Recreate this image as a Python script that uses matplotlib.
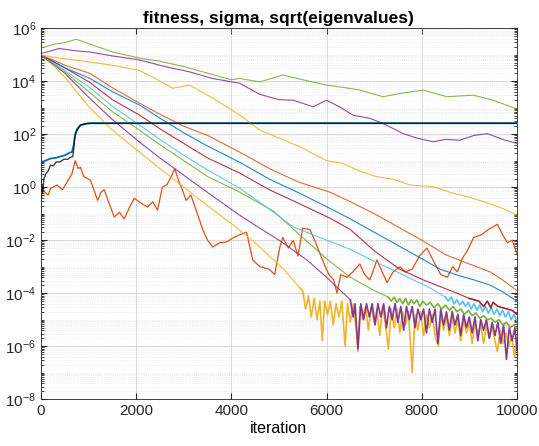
import numpy as np
import matplotlib
matplotlib.use("Agg")
import matplotlib.pyplot as plt
from matplotlib.ticker import (LogLocator, FixedLocator, FuncFormatter,
                               MultipleLocator, NullFormatter)

plt.rcParams['font.family'] = ['Liberation Sans', 'DejaVu Sans']
plt.rcParams['mathtext.fontset'] = 'custom'
plt.rcParams['mathtext.rm'] = 'Liberation Sans'
plt.rcParams['mathtext.it'] = 'Liberation Sans'

# colours (MATLAB default order)
C_BLUE = '#0072BD'
C_ORANGE = '#D95319'
C_YELLOW = '#EDB120'
C_PURPLE = '#7E2F8E'
C_GREEN = '#77AC30'
C_CYAN = '#4DBEEE'
C_RED = '#A2142F'

# ---- data, values, stored as log10 ----
black_it = [0, 10, 20, 40, 60, 100, 150, 200, 260, 320, 400, 480, 560, 620,
            670, 690, 710, 740, 780, 830, 900, 970, 1050, 10000]
black_lg = [0.26, -0.4, 0.1, -0.2, 0.3, 0.5, 0.6, 0.83, 0.8, 0.95, 0.95, 1.05,
            1.05, 1.13, 1.15, 1.5, 1.9, 2.07, 2.2, 2.34, 2.38, 2.4, 2.41, 2.41]

blue_it = [0, 100, 200, 300, 400, 500, 600, 650, 690, 720, 760, 830, 970, 1050, 10000]
blue_lg = [0.94, 1.0, 1.08, 1.1, 1.15, 1.2, 1.3, 1.32, 1.6, 2.0, 2.2, 2.34, 2.4, 2.41, 2.41]

fit_it = [0, 60, 150, 200, 340, 450, 550, 650, 720, 780, 830, 900, 1040, 1190,
          1260, 1330, 1450, 1540, 1650, 1750, 1850, 1960, 2100, 2240, 2350,
          2450, 2550, 2650, 2750, 2810, 2900, 2970, 3050, 3150, 3260, 3400,
          3500, 3610, 3750, 3900, 4050, 4175, 4320, 4450, 4600, 4800, 4910,
          5020, 5080, 5200, 5300, 5400, 5500, 5650, 5750, 5860, 5950, 6050,
          6150, 6220, 6300, 6430, 6550, 6700, 6800, 6910, 7060, 7170, 7270,
          7400, 7540, 7650, 7800, 7950, 8110, 8250, 8400, 8540, 8650, 8750,
          8850, 8960, 9090, 9250, 9400, 9500, 9590, 9700, 9800, 9900, 10000]
fit_lg = [0.0, -0.15, -0.3, -0.05, 0.08, -0.1, 0.19, 0.5, 1.0, 0.7, 0.75, 0.4,
          0.26, -0.5, -0.2, -0.1, -0.7, -1.13, -0.95, -1.2, -0.8, -0.42, -0.6,
          -0.75, -0.55, -0.87, 0.0, 0.1, 0.45, 0.7, 0.2, -0.1, -0.5, -0.3,
          -0.87, -1.6, -2.0, -2.26, -2.1, -2.07, -1.9, -1.8, -1.7, -2.75,
          -3.0, -3.1, -3.3, -2.26, -1.9, -2.3, -2.0, -2.6, -1.55, -1.6, -2.0,
          -2.5, -2.9, -3.3, -3.5, -4.0, -3.3, -3.4, -3.2, -2.9, -3.3, -3.5,
          -2.75, -3.2, -3.6, -3.2, -3.0, -3.2, -3.1, -2.6, -2.3, -2.8, -3.3,
          -3.4, -3.0, -3.2, -2.7, -2.4, -1.9, -1.8, -1.6, -1.5, -1.4, -1.8,
          -2.1, -2.0, -2.5]

# sqrt(eigenvalues), smallest first
yel2_it = [0, 250, 500, 1020, 1500, 2070, 2500, 3000, 3500, 4040, 4500, 4800,
           5100, 5440, 5500, 5560, 5620, 5680, 5740, 5800, 5860, 5910, 5960,
           6020, 6080, 6140, 6200, 6260, 6320, 6390, 6440, 6500, 6560, 6620,
           6660, 6700, 6760, 6820, 6880, 6940, 7000, 7060, 7120, 7180, 7240,
           7300, 7360, 7420, 7480, 7540, 7600, 7660, 7720, 7800, 7860, 7920,
           7980, 8040, 8100, 8160, 8220, 8290, 8350, 8400, 8460, 8520, 8580,
           8640, 8700, 8760, 8820, 8880, 8940, 9000, 9060, 9120, 9180, 9240,
           9300, 9360, 9420, 9480, 9540, 9590, 9650, 9710, 9770, 9830, 9890,
           9950, 10000]
yel2_lg = [4.98, 4.6, 4.15, 3.0, 2.15, 1.32, 0.7, 0.0, -0.7, -1.43, -2.1, -2.6,
           -3.1, -3.8, -3.9, -4.6, -4.1, -4.9, -4.2, -5.0, -4.3, -5.8, -4.3,
           -4.8, -4.3, -5.2, -4.4, -4.9, -4.3, -6.0, -4.4, -5.1, -4.4, -5.3,
           -6.2, -4.5, -5.0, -4.5, -5.4, -4.5, -5.1, -4.6, -5.6, -4.5, -5.2,
           -6.1, -4.6, -5.3, -4.6, -5.5, -4.7, -5.2, -4.7, -7.0, -4.8, -5.4,
           -4.7, -5.6, -4.8, -5.3, -4.8, -5.7, -6.0, -4.8, -5.4, -4.9, -5.6,
           -4.9, -5.5, -5.0, -5.8, -5.0, -5.5, -5.1, -5.9, -5.1, -5.6, -5.2,
           -5.9, -5.2, -5.7, -5.3, -5.8, -6.2, -5.4, -5.9, -5.5, -6.0, -5.6,
           -6.4, -5.7]

pur2_it = [0, 250, 500, 1020, 1500, 2070, 2500, 3000, 3500, 4175, 4600, 5000,
           5590, 6000, 6500, 6560, 6600, 6660, 6720, 6780, 6840, 6900, 6960,
           7020, 7080, 7140, 7200, 7260, 7320, 7380, 7440, 7500, 7560, 7620,
           7680, 7740, 7800, 7860, 7920, 7980, 8040, 8100, 8160, 8220, 8280,
           8340, 8400, 8460, 8520, 8580, 8640, 8700, 8760, 8820, 8880, 8940,
           9000, 9060, 9120, 9180, 9240, 9300, 9360, 9420, 9480, 9540, 9600,
           9660, 9720, 9780, 9840, 9900, 9960, 10000]
pur2_lg = [4.98, 4.65, 4.3, 3.36, 2.55, 1.7, 1.1, 0.45, -0.2, -1.06, -1.55,
           -2.0, -2.75, -3.4, -4.25, -4.9, -4.4, -6.1, -4.4, -5.0, -4.4, -4.9,
           -4.4, -5.2, -4.4, -4.9, -4.4, -5.3, -4.5, -5.0, -4.4, -5.1, -4.5,
           -5.4, -4.5, -5.0, -4.5, -5.3, -4.6, -5.0, -4.6, -5.5, -4.6, -5.1,
           -4.6, -5.9, -4.6, -5.2, -4.7, -5.4, -4.7, -5.2, -4.8, -5.6, -4.8,
           -5.3, -4.9, -5.5, -4.9, -5.8, -5.0, -5.4, -5.0, -5.7, -5.1, -5.6,
           -5.1, -5.9, -5.2, -6.5, -5.3, -5.8, -5.3, -6.1]

grn2_it = [0, 250, 500, 1020, 1500, 2070, 2500, 3000, 3500, 4175, 4880, 5500,
           6000, 6500, 7000, 7300, 7360, 7420, 7480, 7540, 7600, 7660, 7720,
           7780, 7840, 7900, 7960, 8020, 8100, 8180, 8260, 8340, 8420, 8500,
           8580, 8660, 8740, 8820, 8900, 8980, 9060, 9140, 9220, 9300, 9380,
           9460, 9540, 9620, 9700, 9780, 9860, 9940, 10000]
grn2_lg = [4.98, 4.7, 4.35, 3.58, 2.85, 2.15, 1.6, 1.0, 0.4, -0.19, -0.9, -1.9,
           -2.7, -3.4, -3.9, -4.15, -4.3, -4.15, -4.35, -4.2, -4.4, -4.2,
           -4.45, -4.25, -4.4, -4.25, -4.5, -4.3, -4.45, -4.35, -4.55, -4.4,
           -4.6, -4.45, -4.65, -4.5, -4.7, -4.6, -4.8, -4.65, -4.85, -4.75,
           -4.95, -4.85, -5.0, -4.95, -5.1, -5.0, -5.2, -5.1, -5.3, -5.2, -5.35]

cyan_it = [0, 250, 500, 1020, 1500, 2070, 2500, 3000, 3500, 4175, 4700, 5300,
           6000, 6500, 7000, 7540, 8170, 8500, 8560, 8620, 8680, 8740, 8800,
           8860, 8920, 8980, 9040, 9100, 9160, 9220, 9280, 9340, 9400, 9460,
           9520, 9580, 9640, 9700, 9760, 9820, 9880, 9940, 10000]
cyan_lg = [4.98, 4.7, 4.4, 3.77, 3.05, 2.34, 1.8, 1.2, 0.65, -0.04, -0.7, -1.5,
           -2.0, -2.35, -2.8, -3.25, -3.8, -4.15, -4.3, -4.15, -4.4, -4.25,
           -4.45, -4.3, -4.5, -4.35, -4.6, -4.4, -4.65, -4.45, -4.7, -4.5,
           -4.75, -4.55, -4.8, -4.6, -4.85, -4.65, -4.9, -4.7, -5.0, -4.8, -5.05]

red_it = [0, 250, 500, 1020, 1500, 2070, 2500, 3000, 3500, 4175, 4800, 5400,
          6070, 6500, 7000, 7540, 8030, 8740, 9000, 9200, 9300, 9380, 9450,
          9500, 9600, 9700, 9800, 9900, 10000]
red_lg = [4.98, 4.75, 4.5, 3.96, 3.3, 2.72, 2.2, 1.65, 1.1, 0.53, -0.1, -0.6,
          -1.17, -1.6, -2.4, -3.1, -3.5, -4.0, -4.2, -4.3, -4.5, -4.3, -4.55,
          -4.35, -4.5, -4.55, -4.6, -4.65, -4.8]

eblue_it = [0, 250, 500, 1020, 1500, 2070, 2500, 3000, 3500, 4175, 4800, 5400,
            6070, 6500, 7000, 7500, 8000, 8390, 8800, 9100, 9440, 9700, 10000]
eblue_lg = [4.98, 4.75, 4.5, 4.11, 3.6, 3.1, 2.6, 2.05, 1.55, 0.94, 0.3, -0.2,
            -0.8, -1.2, -1.7, -2.2, -2.7, -3.1, -3.35, -3.5, -3.7, -3.95, -4.3]

salm_it = [0, 250, 500, 1020, 1500, 2070, 2500, 3000, 3500, 4175, 4800, 5400,
           6070, 6500, 7000, 7500, 8000, 8500, 9000, 9440, 9700, 10000]
salm_lg = [4.98, 4.8, 4.6, 4.3, 3.75, 3.17, 2.75, 2.3, 1.95, 1.32, 0.7, 0.2,
           -0.19, -0.55, -1.0, -1.5, -2.0, -2.55, -2.9, -3.2, -3.5, -3.9]

yel1_it = [0, 385, 1020, 1500, 2070, 2400, 2770, 3120, 3610, 4175, 4600, 5000,
           5440, 6000, 6350, 6700, 7060, 7400, 7750, 8240, 8600, 8960, 9300,
           9700, 10000]
yel1_lg = [4.98, 4.87, 4.72, 4.6, 4.4, 4.1, 3.73, 3.85, 3.36, 2.72, 2.15, 1.85,
           1.52, 1.0, 0.89, 0.6, 0.39, 0.3, 0.08, 0.02, -0.2, -0.36, -0.55,
           -0.8, -1.06]

pur1_it = [0, 385, 700, 1020, 1500, 2070, 2600, 3120, 3600, 4175, 4600, 5000,
           5300, 5720, 6000, 6300, 6560, 6900, 7190, 7610, 7900, 8240, 8500,
           8800, 9100, 9380, 9700, 10000]
pur1_lg = [5.04, 5.23, 5.15, 5.1, 4.95, 4.8, 4.55, 4.35, 4.1, 3.92, 3.5, 3.3,
           3.28, 3.03, 3.28, 3.0, 2.71, 2.6, 2.4, 2.02, 1.85, 1.71, 1.8, 1.77,
           1.95, 2.02, 1.8, 1.65]

grn1_it = [0, 300, 500, 740, 1020, 1500, 2070, 2500, 3000, 3500, 4000, 4175,
           4600, 5080, 5500, 6000, 6400, 6700, 7190, 7600, 8030, 8530, 9080,
           9500, 10000]
grn1_lg = [5.25, 5.4, 5.45, 5.58, 5.4, 5.1, 4.87, 4.75, 4.55, 4.3, 4.05, 4.1,
           3.97, 4.23, 4.05, 3.85, 3.75, 3.66, 3.41, 3.55, 3.66, 3.41, 3.47,
           3.28, 2.95]

# colour and the iteration where the line turns into the noisy floor (drawn heavier)
eigen = [
    (yel2_it, yel2_lg, C_YELLOW, 5440),
    (pur2_it, pur2_lg, C_PURPLE, 6500),
    (grn2_it, grn2_lg, C_GREEN, 7300),
    (cyan_it, cyan_lg, C_CYAN, 8500),
    (red_it, red_lg, C_RED, 9000),
    (eblue_it, eblue_lg, C_BLUE, None),
    (salm_it, salm_lg, C_ORANGE, None),
    (yel1_it, yel1_lg, C_YELLOW, None),
    (pur1_it, pur1_lg, C_PURPLE, None),
    (grn1_it, grn1_lg, C_GREEN, None),
]


def pow10(v):
    return np.power(10.0, np.asarray(v, dtype=float))


fig = plt.figure(figsize=(5.39, 4.46), dpi=100)
ax = fig.add_axes([0.076, 0.105, 0.883, 0.832])

ax.plot(blue_it, pow10(blue_lg), color=C_BLUE, lw=1.3)
ax.plot(fit_it, pow10(fit_lg), color=C_ORANGE, lw=0.9)
for it, lg, col, floor_at in eigen:
    it = np.asarray(it)
    y = pow10(lg)
    if floor_at is None:
        ax.plot(it, y, color=col, lw=0.8, alpha=0.85)
    else:
        k = int(np.searchsorted(it, floor_at))
        ax.plot(it[:k + 1], y[:k + 1], color=col, lw=0.8, alpha=0.85)
        ax.plot(it[k:], y[k:], color=col, lw=1.2, alpha=0.95)
ax.plot(black_it, pow10(black_lg), color='black', lw=1.0, alpha=0.75)

ax.set_yscale('log')
ax.set_xlim(0, 10000)
ax.set_ylim(1e-8, 1e6)

ax.yaxis.set_major_locator(FixedLocator([10.0 ** k for k in range(-8, 7, 2)]))
ax.yaxis.set_major_formatter(FuncFormatter(
    lambda v, p: r'$\mathregular{10^{%d}}$' % round(np.log10(v))))
ax.yaxis.set_minor_locator(LogLocator(base=10, subs=np.arange(1, 10), numticks=100))
ax.yaxis.set_minor_formatter(NullFormatter())
ax.xaxis.set_major_locator(MultipleLocator(2000))

ax.grid(True, which='major', color='#d4d4d4', lw=0.6)
ax.grid(True, which='minor', axis='y', color='#e2e2e2', lw=0.5, ls=':')
ax.set_axisbelow(True)

ax.tick_params(which='both', direction='in', top=True, right=True,
               colors='#262626', labelsize=11)
ax.tick_params(which='major', length=4)
ax.tick_params(which='minor', length=2)
for sp in ax.spines.values():
    sp.set_color('#262626')
    sp.set_linewidth(0.6)

ax.set_title('fitness, sigma, sqrt(eigenvalues)', fontsize=12.5,
             fontweight='bold', pad=4)
ax.set_xlabel('iteration', fontsize=11.5, labelpad=2)

fig.savefig('out.png', dpi=100)
